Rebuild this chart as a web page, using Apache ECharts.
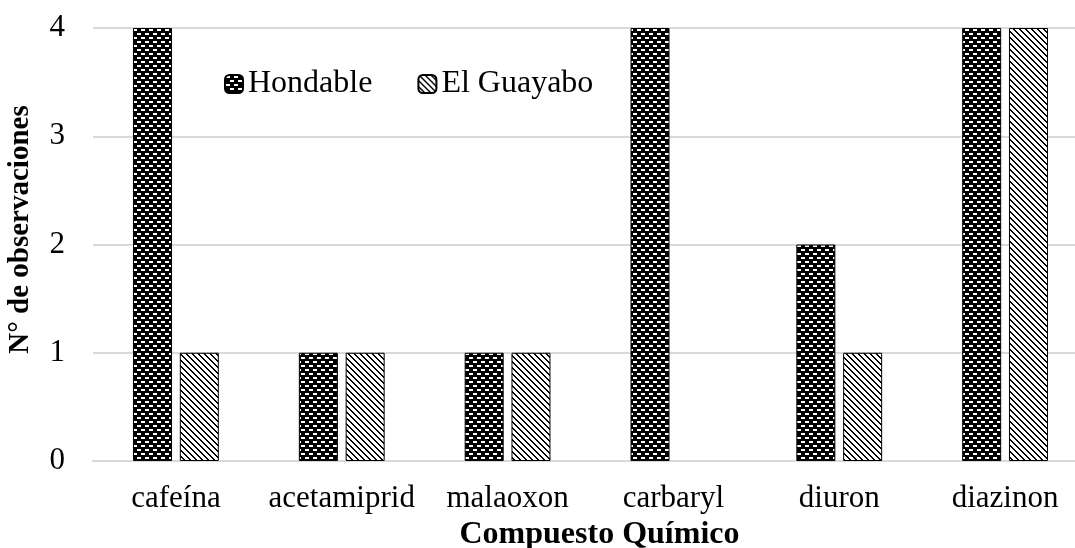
<!DOCTYPE html>
<html>
<head>
<meta charset="utf-8">
<script src="https://cdn.jsdelivr.net/npm/echarts@6/dist/echarts.min.js"></script>
<style>
  html, body { margin: 0; padding: 0; background: #fff; overflow: hidden; }
  #chart { width: 1075px; height: 548px; }
</style>
</head>
<body>
<div id="chart"></div>
<script>
const categories = ['cafeína', 'acetamiprid', 'malaoxon', 'carbaryl', 'diuron', 'diazinon'];
const hondable = [4, 1, 1, 4, 2, 4];
const guayabo = [1, 1, 1, 0, 1, 4];
const yTicks = [0, 1, 2, 3, 4];

// brick-like pattern: black with short white dashes
function brickPattern() {
  const c = document.createElement('canvas');
  c.width = 8; c.height = 8;
  const ctx = c.getContext('2d');
  ctx.fillStyle = '#000';
  ctx.fillRect(0, 0, 8, 8);
  ctx.fillStyle = '#fff';
  ctx.fillRect(1, 1, 4, 2);
  ctx.fillRect(5, 5, 3, 2);
  ctx.fillRect(0, 5, 1, 2);
  return c;
}

// diagonal stripes, top-left to bottom-right
function stripePattern() {
  const c = document.createElement('canvas');
  c.width = 6; c.height = 6;
  const ctx = c.getContext('2d');
  ctx.fillStyle = '#fff';
  ctx.fillRect(0, 0, 6, 6);
  ctx.fillStyle = '#000';
  for (let i = 0; i < 6; i++) {
    ctx.fillRect(i, i, 2, 1);
    ctx.fillRect(i - 6, i, 2, 1);
  }
  return c;
}

const brick = { image: brickPattern(), repeat: 'repeat' };
const stripe = { image: stripePattern(), repeat: 'repeat' };

// zero-height bars are not drawn in the reference
const hideZero = v => v === 0 ? { value: v, itemStyle: { borderWidth: 0, opacity: 0 } } : v;

const chart = echarts.init(document.getElementById('chart'));
const font = '"Liberation Serif", "Times New Roman", serif';

chart.setOption({
  animation: false,
  textStyle: { fontFamily: font },
  legend: {
    left: 219,
    top: 63,
    itemWidth: 18,
    itemHeight: 18,
    itemGap: 45,
    textStyle: { fontFamily: font, fontSize: 32, color: '#000' },
    data: ['Hondable', 'El Guayabo']
  },
  // plot runs slightly past the right edge, like the original
  grid: { left: 93, right: -13, top: 28, bottom: 87, outerBoundsMode: 'none' },
  xAxis: {
    type: 'category',
    data: categories,
    axisLine: { lineStyle: { color: '#d9d9d9', width: 2 } },
    axisTick: { show: false },
    axisLabel: { fontFamily: font, fontSize: 31, color: '#000', margin: 22, interval: 0 },
    name: 'Compuesto Químico',
    nameLocation: 'middle',
    nameGap: 54,
    nameTextStyle: { fontFamily: font, fontSize: 32, fontWeight: 'bold', color: '#000', padding: [0, 0, 0, 18] }
  },
  yAxis: {
    type: 'value',
    min: yTicks[0],
    max: yTicks[yTicks.length - 1],
    interval: 1,
    axisLine: { show: false },
    axisTick: { show: false },
    splitLine: { lineStyle: { color: '#d9d9d9', width: 2 } },
    axisLabel: { fontFamily: font, fontSize: 31, color: '#000', margin: 28 },
    name: 'N° de observaciones',
    nameLocation: 'middle',
    nameGap: 58,
    nameTextStyle: { fontFamily: font, fontSize: 29, fontWeight: 'bold', color: '#000', padding: [0, 0, 0, 30] }
  },
  series: [
    {
      name: 'Hondable',
      type: 'bar',
      data: hondable.map(hideZero),
      barWidth: 39,
      barGap: '20%',
      itemStyle: { color: brick, borderColor: '#000', borderWidth: 1 }
    },
    {
      name: 'El Guayabo',
      type: 'bar',
      data: guayabo.map(hideZero),
      barWidth: 39,
      itemStyle: { color: stripe, borderColor: '#000', borderWidth: 1 }
    }
  ]
});
</script>
</body>
</html>
